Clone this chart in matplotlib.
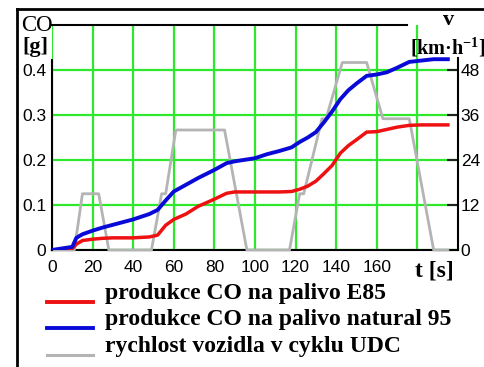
import matplotlib
matplotlib.use("Agg")
import matplotlib.pyplot as plt
from matplotlib.lines import Line2D

plt.rcParams['mathtext.fontset'] = 'custom'
plt.rcParams['mathtext.rm'] = 'Liberation Serif:bold'
plt.rcParams['mathtext.default'] = 'rm'

# cas [s] pro krivky CO
t_co = [0, 10, 12, 15, 20, 25, 30, 40, 48, 52, 56, 60, 66, 72, 80, 86, 90,
        100, 106, 112, 118, 122, 126, 130, 134, 138, 142, 146, 150, 155, 160,
        165, 170, 176, 182, 188, 195]
# produkce CO [g] - E85
co_e85 = [0, 0.003, 0.013, 0.021, 0.024, 0.026, 0.027, 0.027, 0.029, 0.033,
          0.055, 0.068, 0.080, 0.097, 0.113, 0.126, 0.129, 0.129, 0.129, 0.129,
          0.130, 0.135, 0.142, 0.153, 0.170, 0.188, 0.215, 0.232, 0.245, 0.262,
          0.263, 0.268, 0.273, 0.277, 0.278, 0.278, 0.278]
# produkce CO [g] - natural 95
co_n95 = [0, 0.007, 0.027, 0.035, 0.043, 0.050, 0.056, 0.068, 0.080, 0.089,
          0.110, 0.130, 0.145, 0.160, 0.178, 0.193, 0.197, 0.204, 0.213, 0.220,
          0.228, 0.240, 0.250, 0.262, 0.284, 0.308, 0.335, 0.355, 0.370, 0.387,
          0.390, 0.395, 0.405, 0.418, 0.421, 0.424, 0.424]
# rychlost v cyklu UDC
t_udc = [0, 11, 15, 23, 28, 49, 54, 56, 61, 85, 96, 117, 122, 124, 133, 135,
         143, 155, 163, 176, 188, 195]
v_udc = [0, 0, 15, 15, 0, 0, 15, 15, 32, 32, 0, 0, 15, 15, 35, 35, 50, 50,
         35, 35, 0, 0]

x_ticks = [0, 20, 40, 60, 80, 100, 120, 140, 160, 180]
x_labels = ['0', '20', '40', '60', '80', '100', '120', '140', '160', '']
co_ticks = [0, 0.1, 0.2, 0.3, 0.4]
co_labels = ['0', '0.1', '0.2', '0.3', '0.4']
v_ticks = [0, 12, 24, 36, 48]

legend_labels = ['produkce CO na palivo E85',
                 'produkce CO na palivo natural 95',
                 'rychlost vozidla v cyklu UDC']
colors = ['#ee1111', '#0a0ad8', '#b4b4b4']

W, H = 485, 367
fig = plt.figure(figsize=(W / 100, H / 100), dpi=100)

def fx(x):
    return x / W

def fy(y):
    return 1 - y / H

axv = fig.add_axes([fx(52), fy(250), 406 / W, 225 / H])
axc = axv.twinx()

# rychlost (spodni osa) + mrizka
axv.set_xlim(0, 200)
axv.set_ylim(0, 60)
axv.set_axisbelow(True)
axv.set_xticks(x_ticks)
axv.set_xticklabels(x_labels)
axv.set_yticks(v_ticks)
axv.grid(True, color='#2ee82e', lw=1.6)
axv.yaxis.tick_right()
axv.tick_params(axis='y', direction='in', length=8, width=1.5, pad=2,
                labelsize=12.5, labelfontfamily='Liberation Sans', color='#222222')
axv.tick_params(axis='x', length=0, pad=7, labelsize=12.5,
                labelfontfamily='Liberation Sans')
axv.plot(t_udc, v_udc, color=colors[2], lw=2, zorder=3, clip_on=False)

axv.spines['left'].set_visible(False)
axv.spines['bottom'].set_linewidth(1.5)
axv.spines['right'].set_linewidth(1.5)
axv.spines['right'].set_bounds(0, 51.2)
axv.spines['top'].set_linewidth(1.5)
axv.spines['top'].set_bounds(0, 175)

# CO (horni osa)
axc.set_ylim(0, 0.5)
axc.set_yticks(co_ticks)
axc.set_yticklabels(co_labels)
axc.yaxis.tick_left()
axc.tick_params(axis='y', length=0, pad=4, labelsize=12.5,
                labelfontfamily='Liberation Sans')
for s in ['right', 'top', 'bottom']:
    axc.spines[s].set_visible(False)
axc.spines['left'].set_linewidth(1.5)
axc.spines['left'].set_bounds(0, 0.422)
axc.plot(t_co, co_e85, color=colors[0], lw=2.5, zorder=4)
axc.plot(t_co, co_n95, color=colors[1], lw=2.8, zorder=5)

serif = 'Liberation Serif'
fig.text(fx(21), fy(31), 'CO', family=serif, fontsize=16.5, va='baseline')
fig.text(fx(22), fy(52), '[g]', family=serif, fontsize=16,
         fontweight='bold', va='baseline')
fig.text(fx(449), fy(25), 'v', family=serif, fontsize=16,
         fontweight='bold', va='baseline', ha='center')
fig.text(fx(410), fy(54), '[km\u00b7h$^{-1}$]', family=serif, fontsize=14.5,
         fontweight='bold', va='baseline')
fig.text(fx(415), fy(276), 't [s]', family=serif, fontsize=17,
         fontweight='bold', va='baseline')

# legenda
base = [299, 325, 352]
for lab, col, b in zip(legend_labels, colors, base):
    fig.add_artist(Line2D([fx(47), fx(93)], [fy(b + 3), fy(b + 3)],
                          transform=fig.transFigure, color=col,
                          lw=2.8 if col != colors[2] else 2.2))
    fig.text(fx(105), fy(b), lab, family=serif, fontsize=17,
             fontweight='bold', va='baseline')

# ramecek
fig.add_artist(Line2D([fx(17), fx(17)], [0, fy(9)], transform=fig.transFigure,
                      color='k', lw=2))
fig.add_artist(Line2D([fx(17), 1], [fy(9), fy(9)], transform=fig.transFigure,
                      color='k', lw=2))

fig.savefig('out.png', dpi=100)
